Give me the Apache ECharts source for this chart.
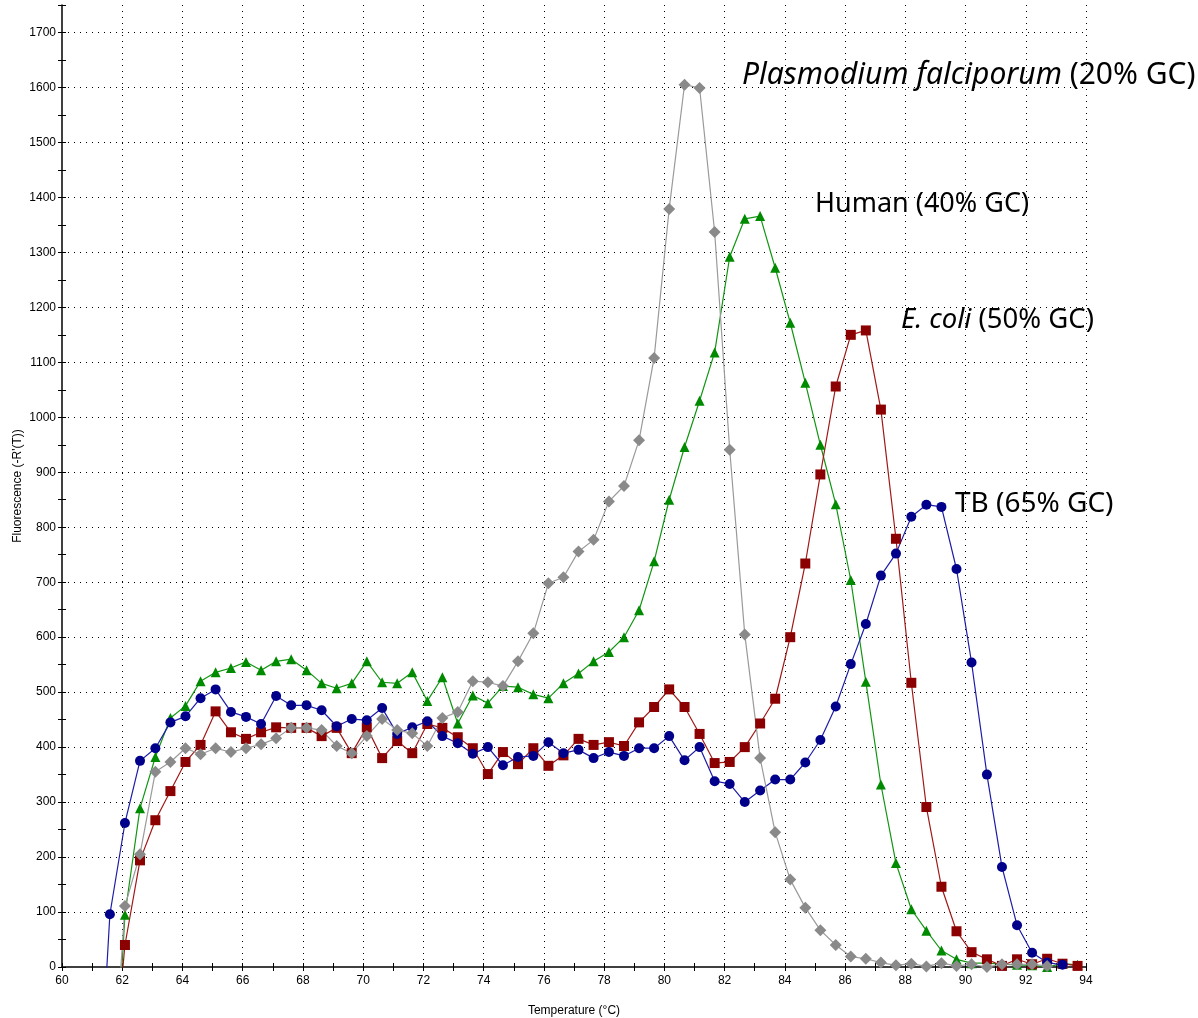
<!DOCTYPE html>
<html>
<head>
<meta charset="utf-8">
<script src="https://cdn.jsdelivr.net/npm/echarts@6/dist/echarts.min.js"></script>
<style>
  html, body { margin: 0; padding: 0; background: #fff; }
  #chart { width: 1198px; height: 1018px; }
</style>
</head>
<body>
<div id="chart"></div>
<script>
// melt temperatures (°C), shared by all four curves
const temps = [61.09, 61.59, 62.09, 62.59, 63.10, 63.60, 64.10, 64.60, 65.10, 65.61, 66.11, 66.61, 67.11, 67.61,
  68.12, 68.62, 69.12, 69.62, 70.12, 70.63, 71.13, 71.63, 72.13, 72.63, 73.14, 73.64, 74.14, 74.64, 75.14,
  75.65, 76.15, 76.65, 77.15, 77.65, 78.16, 78.66, 79.16, 79.66, 80.16, 80.67, 81.17, 81.67, 82.17, 82.67,
  83.18, 83.68, 84.18, 84.68, 85.18, 85.69, 86.19, 86.69, 87.19, 87.69, 88.20, 88.70, 89.20, 89.70, 90.20,
  90.71, 91.21, 91.71, 92.21, 92.71, 93.22, 93.72];

const tbValues = [-384, 96, 262, 375, 398, 445, 456, 489, 505, 464, 455, 442, 493, 476, 476, 467, 438, 451, 449,
  471, 424, 436, 447, 420, 407, 388, 400, 367, 382, 384, 409, 389, 395, 380, 391, 384, 398, 398, 420, 376, 400,
  338, 333, 300, 321, 341, 341, 372, 413, 474, 551, 624, 712, 752, 819, 841, 837, 724, 554, 350, 182, 76, 26,
  8, 4, null];

const ecoliValues = [null, -260, 40, 194, 267, 320, 373, 404, 465, 427, 415, 427, 436, 435, 435, 420, 435, 389,
  436, 380, 411, 389, 442, 435, 418, 398, 351, 391, 369, 398, 366, 385, 415, 404, 409, 402, 445, 473, 505, 473,
  424, 371, 373, 400, 443, 488, 600, 734, 896, 1056, 1150, 1158, 1014, 779, 517, 291, 146, 65, 27, 14, 2, 14,
  5, 15, 6, 2];

const humanValues = [null, -380, 95, 289, 382, 453, 475, 520, 536, 544, 555, 540, 556, 560, 540, 516, 507, 516,
  556, 518, 516, 536, 484, 527, 443, 494, 480, 511, 509, 496, 489, 516, 534, 556, 573, 600, 649, 738, 850, 946,
  1030, 1118, 1292, 1361, 1366, 1272, 1172, 1063, 950, 842, 704, 519, 332, 189, 105, 66, 30, 14, 7, 7, 5, 4,
  3, 0, 6, 4];

const plasmoValues = [null, -300, 111, 205, 355, 373, 398, 387, 398, 391, 398, 405, 416, 435, 435, 431, 402, 389,
  420, 451, 431, 425, 402, 453, 464, 520, 518, 511, 556, 607, 698, 709, 756, 777, 847, 875, 958, 1108, 1379,
  1605, 1599, 1337, 941, 605, 380, 245, 159, 108, 67, 40, 19, 15, 8, 3, 6, 1, 7, 2, 5, 0, 5, 5, 5, 2, null, null];

const xTicks = { min: 60, max: 94, step: 2 };
const yTicks = { min: 0, max: 1750, step: 100 };

function pairs(values) {
  return temps.map((t, i) => [t, values[i]]).filter(p => p[1] != null);
}

const tickFont = { fontFamily: 'Liberation Sans Narrow, Liberation Sans, Arial', fontSize: 12, color: '#000' };
const dotted = { type: [1, 5], color: '#000', width: 1 };
const noteFont = 'Noto Sans';

function curve(name, values, color, lineColor, symbol, size) {
  return {
    name: name,
    type: 'line',
    data: pairs(values),
    symbol: symbol,
    symbolSize: size,
    clip: true,
    lineStyle: { color: lineColor, width: 1.2 },
    itemStyle: { color: color },
    emphasis: { disabled: true },
    animation: false
  };
}

function note(left, top, size, text) {
  return {
    type: 'text', left: left, top: top,
    style: {
      text: text, fill: '#000', fontSize: size, fontFamily: noteFont,
      rich: { i: { fontStyle: 'italic', fontSize: size, fontFamily: noteFont } }
    }
  };
}

let chart = echarts.init(document.getElementById('chart'));
chart.setOption({
  animation: false,
  grid: { left: 62, right: 112, top: 5, bottom: 51, outerBoundsMode: 'none' },
  xAxis: [{
    type: 'value', min: xTicks.min, max: xTicks.max, interval: xTicks.step,
    name: 'Temperature (°C)', nameLocation: 'middle', nameGap: 38, nameMoveOverlap: false,
    nameTextStyle: tickFont,
    axisLine: { lineStyle: { color: '#000', width: 1.5 } },
    axisTick: { length: 4, lineStyle: { color: '#000' } },
    minorTick: { show: true, splitNumber: 2, length: 4, lineStyle: { color: '#000' } },
    axisLabel: Object.assign({ margin: 8 }, tickFont),
    splitLine: { show: true, showMinLine: false, lineStyle: dotted }
  }, {
    type: 'value', position: 'bottom', min: xTicks.min, max: xTicks.max, interval: xTicks.step,
    axisLine: { show: false },
    axisTick: { inside: true, length: 4, lineStyle: { color: '#000' } },
    minorTick: { show: true, splitNumber: 2, length: 4, lineStyle: { color: '#000' } },
    axisLabel: { show: false },
    splitLine: { show: false }
  }],
  yAxis: [{
    type: 'value', min: yTicks.min, max: yTicks.max, interval: yTicks.step,
    name: "Fluorescence (-R'(T))", nameLocation: 'middle', nameGap: 38, nameRotate: 90, nameMoveOverlap: false,
    nameTextStyle: tickFont,
    axisLine: { show: true, lineStyle: { color: '#000', width: 1.5 } },
    axisTick: { show: true, length: 4, lineStyle: { color: '#000' } },
    minorTick: { show: true, splitNumber: 2, length: 4, lineStyle: { color: '#000' } },
    axisLabel: Object.assign({
      margin: 6,
      formatter: v => (v % 100 === 0 ? String(v) : '')
    }, tickFont),
    splitLine: { show: true, showMinLine: false, showMaxLine: false, lineStyle: dotted }
  }, {
    type: 'value', position: 'left', min: yTicks.min, max: yTicks.max, interval: yTicks.step,
    axisLine: { show: false },
    axisTick: { show: true, inside: true, length: 4, lineStyle: { color: '#000' } },
    minorTick: { show: true, splitNumber: 2, length: 4, lineStyle: { color: '#000' } },
    axisLabel: { show: false },
    splitLine: { show: false }
  }],
  graphic: [
    note(742, 60, 30, '{i|Plasmodium falciporum} (20% GC)'),
    note(815, 191, 27, 'Human (40% GC)'),
    note(901, 306, 27.5, '{i|E. coli} (50% GC)'),
    note(955, 490, 28, 'TB (65% GC)')
  ],
  series: [
    curve('Human', humanValues, '#008a00', '#129612', 'triangle', 10),
    curve('E. coli', ecoliValues, '#8b0000', '#a01818', 'rect', 10),
    curve('TB', tbValues, '#00008b', '#1c1ca8', 'circle', 10),
    curve('Plasmodium falciporum', plasmoValues, '#8a8a8a', '#9a9a9a', 'diamond', 12)
  ]
});
</script>
</body>
</html>
